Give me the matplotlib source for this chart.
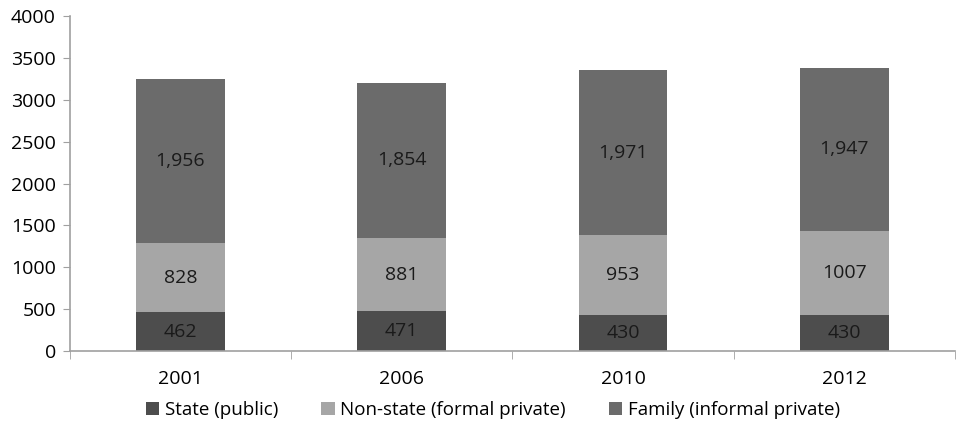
import numpy as np
import matplotlib.pyplot as plt

plt.rcParams['font.family'] = ['Open Sans', 'DejaVu Sans']

years = ['2001', '2006', '2010', '2012']
state = [462, 471, 430, 430]
nonstate = [828, 881, 953, 1007]
family = [1956, 1854, 1971, 1947]
series_names = ['State (public)', 'Non-state (formal private)', 'Family (informal private)']
colors = ['#4d4d4d', '#a6a6a6', '#6b6b6b']

fig = plt.figure(figsize=(9.56, 4.37), dpi=100)
ax = fig.add_axes([0.073, 0.197, 0.926, 0.766])

x = np.arange(len(years))
bottom = np.zeros(len(years))
for vals, name, col in zip([state, nonstate, family], series_names, colors):
    bars = ax.bar(x, vals, 0.4, bottom=bottom, color=col, label=name)
    for xi, b, v in zip(x, bottom, vals):
        lab = f'{v:,}' if v < 1000 or name.startswith('Family') else str(v)
        ax.text(xi, b + v / 2, lab, ha='center', va='center', fontsize=14, color='#1a1a1a')
    bottom += np.array(vals)

ax.set_xlim(-0.5, len(years) - 0.5)
ax.set_ylim(0, 4000)
ax.set_yticks(range(0, 4001, 500))
ax.set_xticks(x)
ax.set_xticklabels(years)
ax.set_xticks(np.arange(-0.5, len(years), 1), minor=True)
ax.tick_params(axis='x', which='major', length=0, pad=14, labelsize=14)
ax.tick_params(axis='x', which='minor', length=6, color='#a0a0a0')
ax.tick_params(axis='y', length=5, color='#a0a0a0', labelsize=14, pad=5)

for s in ['top', 'right']:
    ax.spines[s].set_visible(False)
for s in ['left', 'bottom']:
    ax.spines[s].set_color('#a0a0a0')
    ax.spines[s].set_linewidth(1.2)

ax.legend(loc='center', bbox_to_anchor=(0.478, -0.178), ncol=3, frameon=False,
          fontsize=13.5, handlelength=0.7, handleheight=0.7, handletextpad=0.3,
          columnspacing=2.3)

fig.savefig('out.png', dpi=100)
